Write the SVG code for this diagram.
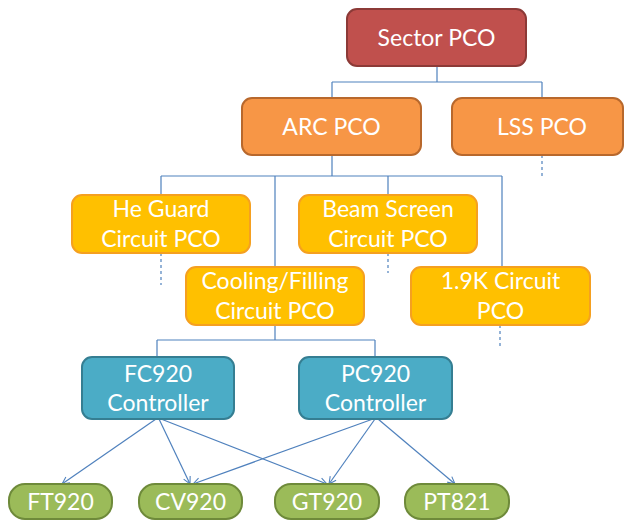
<svg xmlns="http://www.w3.org/2000/svg" width="625" height="521" viewBox="0 0 625 521">
<style>
  text { font-family: Lato, "Liberation Sans", sans-serif; font-size: 23px; fill: #ffffff; text-anchor: middle; }
  .red { fill: #C0504D; stroke: #8C3A37; stroke-width: 2; }
  .orange { fill: #F79646; stroke: #B8682C; stroke-width: 2; }
  .yellow { fill: #FFC000; stroke: #F5A020; stroke-width: 2; }
  .blue { fill: #4BACC6; stroke: #357E92; stroke-width: 2; }
  .green { fill: #9BBB59; stroke: #6E8A3A; stroke-width: 2; }
  .conn { fill: none; stroke: #4F81BD; stroke-width: 1.2; }
  .dash { fill: none; stroke: #4F81BD; stroke-width: 1.2; stroke-dasharray: 3 3; }
</style>
<defs>
  <marker id="arr" viewBox="0 0 10 10" refX="9" refY="5" markerWidth="9" markerHeight="9" orient="auto" markerUnits="userSpaceOnUse">
    <path d="M1,1 L9,5 L1,9" fill="none" stroke="#4F81BD" stroke-width="1.2"/>
  </marker>
</defs>
<g id="connectors">
  <path class="conn" d="M437,66 V82 M332,82 H542 M332,82 V98 M542,82 V98"/>
  <path class="dash" d="M542,155 V178"/>
  <path class="conn" d="M332,155 V176 M161,176 H502 M161,176 V195 M275,176 V267 M388,176 V195 M502,176 V267"/>
  <path class="dash" d="M161,253 V285 M388,253 V273 M500,325 V348"/>
  <path class="conn" d="M275,325 V340 M157,340 H375 M157,340 V357 M375,340 V357"/>
  <line class="conn" x1="156" y1="419" x2="62" y2="484" marker-end="url(#arr)"/>
  <line class="conn" x1="159" y1="419" x2="190" y2="484" marker-end="url(#arr)"/>
  <line class="conn" x1="161" y1="419" x2="327" y2="484" marker-end="url(#arr)"/>
  <line class="conn" x1="373" y1="419" x2="193" y2="484" marker-end="url(#arr)"/>
  <line class="conn" x1="375" y1="419" x2="329" y2="484" marker-end="url(#arr)"/>
  <line class="conn" x1="378" y1="419" x2="455" y2="484" marker-end="url(#arr)"/>
</g>
<g id="sector">
  <rect class="red" x="347" y="9" width="179" height="57" rx="10"/>
  <text x="436.5" y="46">Sector PCO</text>
</g>
<g id="arc">
  <rect class="orange" x="242" y="98" width="179" height="57" rx="10"/>
  <text x="331.5" y="135">ARC PCO</text>
</g>
<g id="lss">
  <rect class="orange" x="452" y="98" width="171" height="57" rx="10"/>
  <text x="542" y="135">LSS PCO</text>
</g>
<g id="heguard">
  <rect class="yellow" x="72" y="195" width="178" height="58" rx="10"/>
  <text x="161" y="217">He Guard</text>
  <text x="161" y="247">Circuit PCO</text>
</g>
<g id="beamscreen">
  <rect class="yellow" x="299" y="195" width="178" height="58" rx="10"/>
  <text x="388" y="217">Beam Screen</text>
  <text x="388" y="247">Circuit PCO</text>
</g>
<g id="cooling">
  <rect class="yellow" x="186" y="267" width="178" height="58" rx="10"/>
  <text x="275" y="289">Cooling/Filling</text>
  <text x="275" y="319">Circuit PCO</text>
</g>
<g id="circuit19k">
  <rect class="yellow" x="411" y="267" width="179" height="58" rx="10"/>
  <text x="500.5" y="289">1.9K Circuit</text>
  <text x="500.5" y="319">PCO</text>
</g>
<g id="fc920">
  <rect class="blue" x="82" y="357" width="152" height="62" rx="10"/>
  <text x="158" y="382">FC920</text>
  <text x="158" y="411">Controller</text>
</g>
<g id="pc920">
  <rect class="blue" x="299" y="357" width="153" height="62" rx="10"/>
  <text x="375.5" y="382">PC920</text>
  <text x="375.5" y="411">Controller</text>
</g>
<g id="ft920">
  <rect class="green" x="9" y="484" width="103" height="35" rx="16"/>
  <text x="60.5" y="510">FT920</text>
</g>
<g id="cv920">
  <rect class="green" x="139" y="484" width="103" height="35" rx="16"/>
  <text x="190.5" y="510">CV920</text>
</g>
<g id="gt920">
  <rect class="green" x="275" y="484" width="104" height="35" rx="16"/>
  <text x="327" y="510">GT920</text>
</g>
<g id="pt821">
  <rect class="green" x="405" y="484" width="104" height="35" rx="16"/>
  <text x="457" y="510">PT821</text>
</g>
</svg>
